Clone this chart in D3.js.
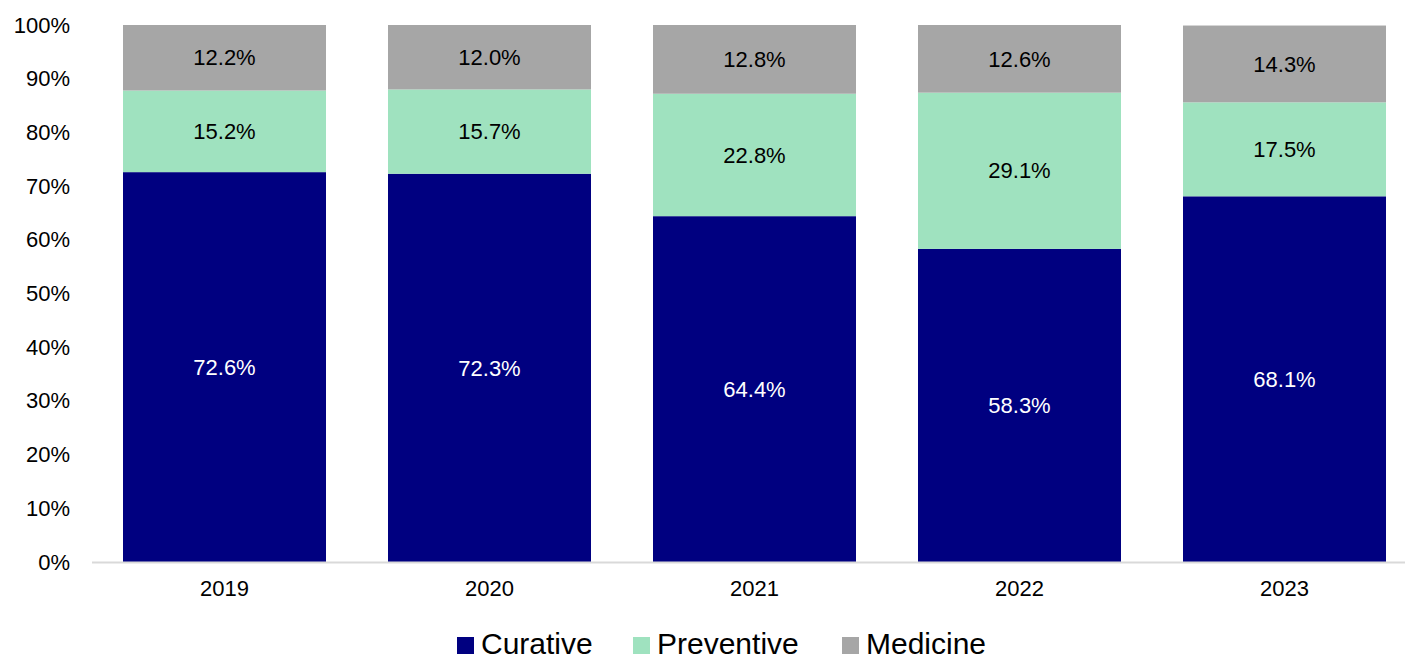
<!DOCTYPE html>
<html>
<head>
<meta charset="utf-8">
<script src="https://cdn.jsdelivr.net/npm/d3@7"></script>
<style>
  html, body { margin: 0; padding: 0; background: #fff; }
  svg { display: block; font-family: "Liberation Sans", Arial, sans-serif; }
</style>
</head>
<body>
<svg id="chart" width="1405" height="659"></svg>
<script>
const years = ["2019", "2020", "2021", "2022", "2023"];
const seriesNames = ["Curative", "Preventive", "Medicine"];
const curative = [72.6, 72.3, 64.4, 58.3, 68.1];
const preventive = [15.2, 15.7, 22.8, 29.1, 17.5];
const medicine = [12.2, 12.0, 12.8, 12.6, 14.3];
const yTicks = [0, 10, 20, 30, 40, 50, 60, 70, 80, 90, 100];
const colors = ["#000080", "#9FE2BF", "#A6A6A6"];
const labelColors = ["#ffffff", "#000000", "#000000"];

const rows = years.map((y, i) => ({
  year: y, Curative: curative[i], Preventive: preventive[i], Medicine: medicine[i]
}));

const svg = d3.select("#chart");
const x = d3.scaleBand().domain(years).range([92, 1417]).paddingInner(0.234).paddingOuter(0.117);
const y = d3.scaleLinear().domain([0, 100]).range([562, 25]);

const stack = d3.stack().keys(seriesNames)(rows);

const layers = svg.selectAll("g.layer").data(stack).join("g")
  .attr("class", "layer")
  .attr("fill", (d, i) => colors[i]);

layers.selectAll("rect").data(d => d).join("rect")
  .attr("x", d => x(d.data.year))
  .attr("width", x.bandwidth())
  .attr("y", d => y(d[1]))
  .attr("height", d => y(d[0]) - y(d[1]));

// data labels
stack.forEach((layer, li) => {
  svg.append("g").selectAll("text").data(layer).join("text")
    .attr("x", d => x(d.data.year) + x.bandwidth() / 2)
    .attr("y", d => (y(d[0]) + y(d[1])) / 2)
    .attr("dy", "0.35em")
    .attr("text-anchor", "middle")
    .attr("font-size", 22)
    .attr("fill", labelColors[li])
    .text(d => (d[1] - d[0]).toFixed(1) + "%");
});

// y axis labels
const yAxis = svg.append("g").attr("transform", "translate(70,0)")
  .call(d3.axisLeft(y).tickValues(yTicks).tickSize(0).tickPadding(0).tickFormat(d => d + "%"));
yAxis.select(".domain").remove();
yAxis.selectAll("text").attr("font-size", 22).attr("fill", "#000").attr("font-family", "Liberation Sans, Arial, sans-serif");

// x axis
const xAxis = svg.append("g").attr("transform", "translate(0,562)")
  .call(d3.axisBottom(x).tickSize(0).tickPadding(18));
xAxis.select(".domain").remove();
xAxis.selectAll("text").attr("font-size", 22).attr("fill", "#000").attr("font-family", "Liberation Sans, Arial, sans-serif");
svg.append("line").attr("x1", 92).attr("x2", 1405).attr("y1", 562.5).attr("y2", 562.5)
  .attr("stroke", "#D9D9D9").attr("stroke-width", 2);

// legend
const legendX = [457, 633, 842];
const legend = svg.append("g");
seriesNames.forEach((name, i) => {
  const g = legend.append("g").attr("transform", `translate(${legendX[i]},637)`);
  g.append("rect").attr("width", 17).attr("height", 17).attr("fill", colors[i]);
  g.append("text").attr("x", 24).attr("y", 17).attr("font-size", 30).attr("fill", "#000").text(name);
});
</script>
</body>
</html>
